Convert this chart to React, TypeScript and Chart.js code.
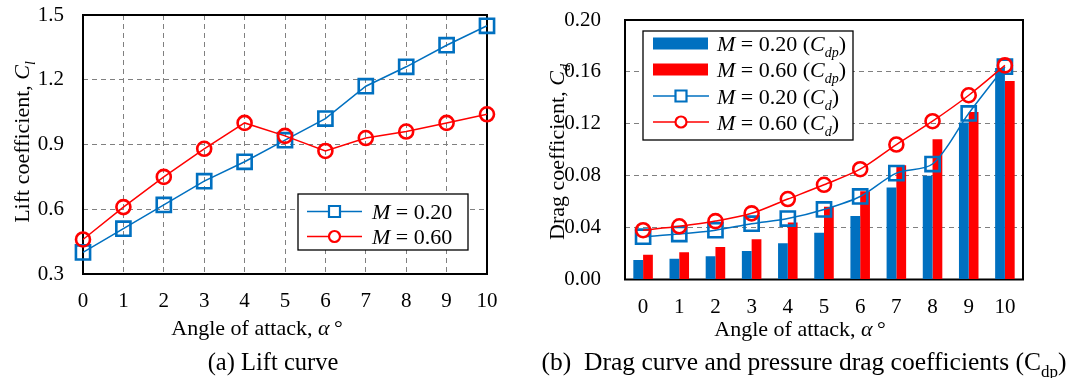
import React, { useEffect, useRef } from 'react';
import { Chart, registerables } from 'chart.js';

Chart.register(...registerables);

// ---------------- data ----------------
const angles = ['0', '1', '2', '3', '4', '5', '6', '7', '8', '9', '10'];

const liftM020 = [0.40, 0.51, 0.62, 0.73, 0.82, 0.92, 1.02, 1.17, 1.26, 1.36, 1.45];
const liftM060 = [0.46, 0.61, 0.75, 0.88, 1.00, 0.94, 0.87, 0.93, 0.96, 1.00, 1.04];

const cdpM020 = [0.015, 0.016, 0.018, 0.022, 0.028, 0.036, 0.049, 0.071, 0.080, 0.121, 0.163];
const cdpM060 = [0.019, 0.021, 0.025, 0.031, 0.044, 0.056, 0.068, 0.088, 0.108, 0.129, 0.153];
const cdM020 = [0.033, 0.035, 0.038, 0.043, 0.047, 0.054, 0.064, 0.082, 0.089, 0.128, 0.164];
const cdM060 = [0.038, 0.041, 0.045, 0.051, 0.062, 0.073, 0.085, 0.104, 0.122, 0.142, 0.165];

const liftTicks = [0.3, 0.6, 0.9, 1.2, 1.5];
const liftTickLabels = ['0.3', '0.6', '0.9', '1.2', '1.5'];
const dragTicks = [0, 0.04, 0.08, 0.12, 0.16, 0.2];
const dragTickLabels = ['0.00', '0.04', '0.08', '0.12', '0.16', '0.20'];

// ---------------- style ----------------
const BLUE = '#0070C0';
const RED = '#FF0000';
const GRID = '#808080';
const FONT = '"Liberation Serif", "Times New Roman", serif';
const TICK_SIZE = 21;
const TITLE_SIZE = 22;
const LEGEND_SIZE = 22;
const CAPTION_SIZE = 24.5;
const CAPTION_B_SIZE = 25.5;

type Seg = { t: string; i?: boolean; sub?: boolean };

function drawRich(
  ctx: CanvasRenderingContext2D,
  segs: Seg[],
  x: number,
  y: number,
  size: number,
  align: 'left' | 'center' = 'center',
  rot = 0
) {
  ctx.save();
  ctx.translate(x, y);
  if (rot) ctx.rotate(rot);
  const fontFor = (s: Seg) => `${s.i ? 'italic ' : ''}${s.sub ? Math.round(size * 0.65) : size}px ${FONT}`;
  let total = 0;
  const widths = segs.map((s) => {
    ctx.font = fontFor(s);
    const w = ctx.measureText(s.t).width;
    total += w;
    return w;
  });
  let cx = align === 'center' ? -total / 2 : 0;
  ctx.fillStyle = '#000';
  ctx.textBaseline = 'alphabetic';
  ctx.textAlign = 'left';
  segs.forEach((s, k) => {
    ctx.font = fontFor(s);
    ctx.fillText(s.t, cx, s.sub ? size * 0.28 : 0);
    cx += widths[k];
  });
  ctx.restore();
}

function drawMarker(ctx: CanvasRenderingContext2D, style: 'rect' | 'circle', x: number, y: number, half: number, color: string, lw: number) {
  ctx.save();
  ctx.strokeStyle = color;
  ctx.fillStyle = '#fff';
  ctx.lineWidth = lw;
  ctx.beginPath();
  if (style === 'rect') ctx.rect(x - half, y - half, half * 2, half * 2);
  else ctx.arc(x, y, half, 0, Math.PI * 2);
  ctx.fill();
  ctx.stroke();
  ctx.restore();
}

const framePlugin = {
  id: 'frame',
  beforeDatasetsDraw(chart: any) {
    const { ctx, chartArea: a } = chart;
    ctx.save();
    ctx.strokeStyle = '#000';
    ctx.lineWidth = 2;
    ctx.strokeRect(a.left, a.top, a.right - a.left, a.bottom - a.top);
    ctx.restore();
  },
};

const noPad = (s: any) => {
  s.paddingTop = 0;
  s.paddingBottom = 0;
  s.paddingLeft = 0;
  s.paddingRight = 0;
};

const angleTitle: Seg[] = [{ t: 'Angle of attack, ' }, { t: 'α', i: true }, { t: '\u2009°' }];

// ---------------- left chart ----------------
function LiftChart() {
  const ref = useRef<HTMLCanvasElement>(null);
  useEffect(() => {
    const textPlugin = {
      id: 'liftText',
      afterDatasetsDraw(chart: any) {
        const ctx = chart.ctx as CanvasRenderingContext2D;
        const bx = 298, by = 194, bw = 170, bh = 56;
        ctx.save();
        ctx.fillStyle = '#fff';
        ctx.fillRect(bx, by, bw, bh);
        ctx.strokeStyle = '#000';
        ctx.lineWidth = 1.3;
        ctx.strokeRect(bx, by, bw, bh);
        const rows = [
          { y: 211.5, color: BLUE, style: 'rect' as const, label: '0.20' },
          { y: 236.5, color: RED, style: 'circle' as const, label: '0.60' },
        ];
        rows.forEach((r) => {
          ctx.strokeStyle = r.color;
          ctx.lineWidth = 1.5;
          ctx.beginPath();
          ctx.moveTo(307, r.y);
          ctx.lineTo(362, r.y);
          ctx.stroke();
          drawMarker(ctx, r.style, 334.5, r.y, 5.5, r.color, 2.2);
          drawRich(ctx, [{ t: 'M', i: true }, { t: ' = ' + r.label }], 372, r.y + 7.5, LEGEND_SIZE, 'left');
        });
        ctx.restore();
      },
      afterDraw(chart: any) {
        const ctx = chart.ctx as CanvasRenderingContext2D;
        drawRich(ctx, [{ t: 'Lift coefficient, ' }, { t: 'C', i: true }, { t: 'l', i: true, sub: true }], 28.5, 142, TITLE_SIZE, 'center', -Math.PI / 2);
        drawRich(ctx, angleTitle, 257, 335, TITLE_SIZE);
        drawRich(ctx, [{ t: '(a) Lift curve' }], 273, 369.5, CAPTION_SIZE);
      },
    };

    const chart = new Chart(ref.current as HTMLCanvasElement, {
      type: 'line',
      data: {
        labels: angles,
        datasets: [
          {
            label: 'M = 0.60',
            data: liftM060,
            borderColor: RED,
            backgroundColor: '#fff',
            pointStyle: 'circle',
            pointRadius: 7,
            pointBorderWidth: 2.6,
            pointBackgroundColor: 'rgba(255,255,255,0)',
            borderWidth: 1.5,
            tension: 0,
            order: 0,
            clip: false,
          } as any,
          {
            label: 'M = 0.20',
            data: liftM020,
            borderColor: BLUE,
            backgroundColor: '#fff',
            pointStyle: 'rect',
            pointRadius: 10,
            pointBorderWidth: 2.6,
            pointBackgroundColor: 'rgba(255,255,255,0)',
            borderWidth: 1.5,
            tension: 0,
            order: 1,
            clip: false,
          } as any,
        ],
      },
      options: {
        animation: false,
        responsive: false,
        devicePixelRatio: 1,
        layout: { autoPadding: false, padding: { top: 15, right: 53, left: 0, bottom: 0 } },
        plugins: { legend: { display: false }, tooltip: { enabled: false } },
        scales: {
          x: {
            type: 'category',
            offset: false,
            grid: { color: GRID, lineWidth: 1, drawTicks: false },
            border: { display: false, dash: [5, 4] },
            ticks: { color: '#000', font: { family: FONT, size: TICK_SIZE }, padding: 15, maxRotation: 0, autoSkip: false },
            afterFit: (s: any) => { s.height = 104; noPad(s); },
          },
          y: {
            type: 'linear',
            min: 0.3,
            max: 1.5,
            grid: { color: GRID, lineWidth: 1, drawTicks: false },
            border: { display: false, dash: [5, 4] },
            ticks: {
              color: '#000',
              font: { family: FONT, size: TICK_SIZE },
              padding: 19,
              callback: (v: any) => {
                const k = liftTicks.findIndex((t) => Math.abs(t - v) < 1e-9);
                return k >= 0 ? liftTickLabels[k] : '';
              },
            },
            afterBuildTicks: (s: any) => { s.ticks = liftTicks.map((v) => ({ value: v })); },
            afterFit: (s: any) => { s.width = 83; noPad(s); },
          },
        },
      },
      plugins: [framePlugin, textPlugin],
    } as any);
    return () => chart.destroy();
  }, []);
  return <canvas ref={ref} width={540} height={378} style={{ position: 'absolute', left: 0, top: 0, width: 540, height: 378 }} />;
}

// ---------------- right chart ----------------
function DragChart() {
  const ref = useRef<HTMLCanvasElement>(null);
  useEffect(() => {
    const textPlugin = {
      id: 'dragText',
      afterDatasetsDraw(chart: any) {
        const ctx = chart.ctx as CanvasRenderingContext2D;
        const bx = 103, by = 31, bw = 210, bh = 109;
        ctx.save();
        ctx.fillStyle = '#fff';
        ctx.fillRect(bx, by, bw, bh);
        ctx.strokeStyle = '#000';
        ctx.lineWidth = 1.3;
        ctx.strokeRect(bx, by, bw, bh);
        const rowsY = [43.5, 69.5, 96, 122];
        ctx.fillStyle = BLUE;
        ctx.fillRect(113, rowsY[0] - 6, 55, 12);
        ctx.fillStyle = RED;
        ctx.fillRect(113, rowsY[1] - 6, 55, 12);
        [[rowsY[2], BLUE, 'rect'], [rowsY[3], RED, 'circle']].forEach(([y, c, st]: any) => {
          ctx.strokeStyle = c;
          ctx.lineWidth = 1.5;
          ctx.beginPath();
          ctx.moveTo(113, y);
          ctx.lineTo(169, y);
          ctx.stroke();
          drawMarker(ctx, st, 141, y, 5.5, c, 2.2);
        });
        const labels: Seg[][] = [
          [{ t: 'M', i: true }, { t: ' = 0.20 (' }, { t: 'C', i: true }, { t: 'dp', i: true, sub: true }, { t: ')' }],
          [{ t: 'M', i: true }, { t: ' = 0.60 (' }, { t: 'C', i: true }, { t: 'dp', i: true, sub: true }, { t: ')' }],
          [{ t: 'M', i: true }, { t: ' = 0.20 (' }, { t: 'C', i: true }, { t: 'd', i: true, sub: true }, { t: ')' }],
          [{ t: 'M', i: true }, { t: ' = 0.60 (' }, { t: 'C', i: true }, { t: 'd', i: true, sub: true }, { t: ')' }],
        ];
        labels.forEach((segs, k) => drawRich(ctx, segs, 177, rowsY[k] + 7.5, LEGEND_SIZE, 'left'));
        ctx.restore();
      },
      afterDraw(chart: any) {
        const ctx = chart.ctx as CanvasRenderingContext2D;
        drawRich(ctx, [{ t: 'Drag coefficient, ' }, { t: 'C', i: true }, { t: 'd', i: true, sub: true }], 23.5, 152, TITLE_SIZE, 'center', -Math.PI / 2);
        drawRich(ctx, angleTitle, 260, 335.5, TITLE_SIZE);
        drawRich(ctx, [{ t: '(b)  Drag curve and pressure drag coefficients (C' }, { t: 'dp', sub: true }, { t: ')' }], 264, 370, CAPTION_B_SIZE);
      },
    };

    const chart = new Chart(ref.current as HTMLCanvasElement, {
      type: 'bar',
      data: {
        labels: angles,
        datasets: [
          {
            type: 'line',
            label: 'M = 0.60 (Cd)',
            data: cdM060,
            borderColor: RED,
            pointStyle: 'circle',
            pointRadius: 7,
            pointBorderWidth: 2.6,
            pointBackgroundColor: 'rgba(255,255,255,0)',
            borderWidth: 1.5,
            tension: 0.3,
            order: 0,
            clip: false,
          },
          {
            type: 'line',
            label: 'M = 0.20 (Cd)',
            data: cdM020,
            borderColor: BLUE,
            pointStyle: 'rect',
            pointRadius: 10,
            pointBorderWidth: 2.6,
            pointBackgroundColor: 'rgba(255,255,255,0)',
            borderWidth: 1.5,
            tension: 0.3,
            order: 1,
            clip: false,
          },
          {
            type: 'bar',
            label: 'M = 0.20 (Cdp)',
            data: cdpM020,
            backgroundColor: BLUE,
            borderWidth: 0,
            categoryPercentage: 0.54,
            barPercentage: 1,
            order: 2,
          },
          {
            type: 'bar',
            label: 'M = 0.60 (Cdp)',
            data: cdpM060,
            backgroundColor: RED,
            borderWidth: 0,
            categoryPercentage: 0.54,
            barPercentage: 1,
            order: 3,
          },
        ],
      },
      options: {
        animation: false,
        responsive: false,
        devicePixelRatio: 1,
        layout: { autoPadding: false, padding: { top: 20, right: 56, left: 0, bottom: 0 } },
        plugins: { legend: { display: false }, tooltip: { enabled: false } },
        scales: {
          x: {
            type: 'category',
            grid: { display: false, drawTicks: false },
            border: { display: false },
            ticks: { color: '#000', font: { family: FONT, size: TICK_SIZE }, padding: 15, maxRotation: 0, autoSkip: false },
            afterFit: (s: any) => { s.height = 98.5; noPad(s); },
          },
          y: {
            type: 'linear',
            min: 0,
            max: 0.2,
            grid: { color: GRID, lineWidth: 1, drawTicks: false },
            border: { display: false, dash: [5, 4] },
            ticks: {
              color: '#000',
              font: { family: FONT, size: TICK_SIZE },
              padding: 24,
              callback: (v: any) => {
                const k = dragTicks.findIndex((t) => Math.abs(t - v) < 1e-9);
                return k >= 0 ? dragTickLabels[k] : '';
              },
            },
            afterBuildTicks: (s: any) => { s.ticks = dragTicks.map((v) => ({ value: v })); },
            afterFit: (s: any) => { s.width = 85; noPad(s); },
          },
        },
      },
      plugins: [framePlugin, textPlugin],
    } as any);
    return () => chart.destroy();
  }, []);
  return <canvas ref={ref} width={539} height={378} style={{ position: 'absolute', left: 540, top: 0, width: 539, height: 378 }} />;
}

export default function App() {
  return (
    <div style={{ position: 'absolute', left: 0, top: 0, width: 1079, height: 378, background: '#fff' }}>
      <LiftChart />
      <DragChart />
    </div>
  );
}
